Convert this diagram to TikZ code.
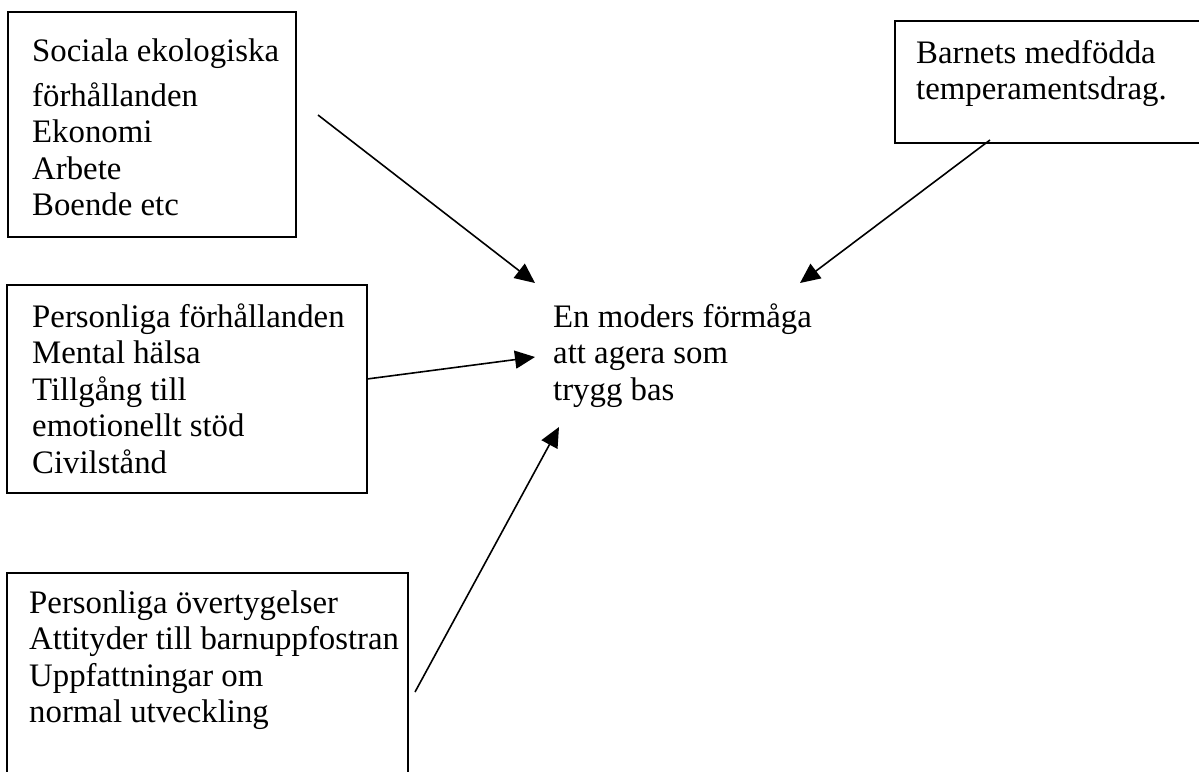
\documentclass[tikz,border=0pt]{standalone}
\usepackage{fontspec}
\setmainfont{Liberation Serif}
\usetikzlibrary{arrows.meta}
\begin{document}
\begin{tikzpicture}[x=1pt,y=-1pt,
  frame/.style={draw=black,line width=1.6pt},
  txt/.style={anchor=base west,inner sep=0pt,font=\fontsize{32.8}{36.5}\selectfont},
  conn/.style={line width=1.6pt,-{Triangle[length=20pt,width=18pt]}}]
\useasboundingbox (0,0) rectangle (1199,771);
\clip (0,0) rectangle (1199,771);
\fill[white] (0,0) rectangle (1199,771);
% boxes
\draw[frame] (8,12) rectangle (296,237);
\draw[frame] (895,21) rectangle (1215,143);
\draw[frame] (7,285) rectangle (367,493);
\draw[frame] (7,573) rectangle (408,790);
% texts
\node[txt] (t1) at (32,61) {\begin{tabular}[t]{@{}l@{}}Sociala ekologiska\\[8.5pt]förhållanden\\Ekonomi\\Arbete\\Boende etc\end{tabular}};
\node[txt] (t2) at (916,63) {\begin{tabular}[t]{@{}l@{}}Barnets medfödda\\temperamentsdrag.\end{tabular}};
\node[txt] (t3) at (32,327) {\begin{tabular}[t]{@{}l@{}}Personliga förhållanden\\Mental hälsa\\Tillgång till\\emotionellt stöd\\Civilstånd\end{tabular}};
\node[txt] (t4) at (29,613) {\begin{tabular}[t]{@{}l@{}}Personliga övertygelser\\Attityder till barnuppfostran\\Uppfattningar om\\normal utveckling\end{tabular}};
\node[txt] (c) at (553,327) {\begin{tabular}[t]{@{}l@{}}En moders förmåga\\att agera som\\trygg bas\end{tabular}};
% connector ends
\coordinate (s1) at (318,115);
\coordinate (e1) at (535,283);
\coordinate (s2) at (990,140);
\coordinate (e2) at (800,283);
\coordinate (s3) at (367,379);
\coordinate (e3) at (535,357);
\coordinate (s4) at (415,692);
\coordinate (e4) at (559,427);
\draw[conn] (s1) -- (e1);
\draw[conn] (s2) -- (e2);
\draw[conn] (s3) -- (e3);
\draw[conn] (s4) -- (e4);
\end{tikzpicture}
\end{document}
